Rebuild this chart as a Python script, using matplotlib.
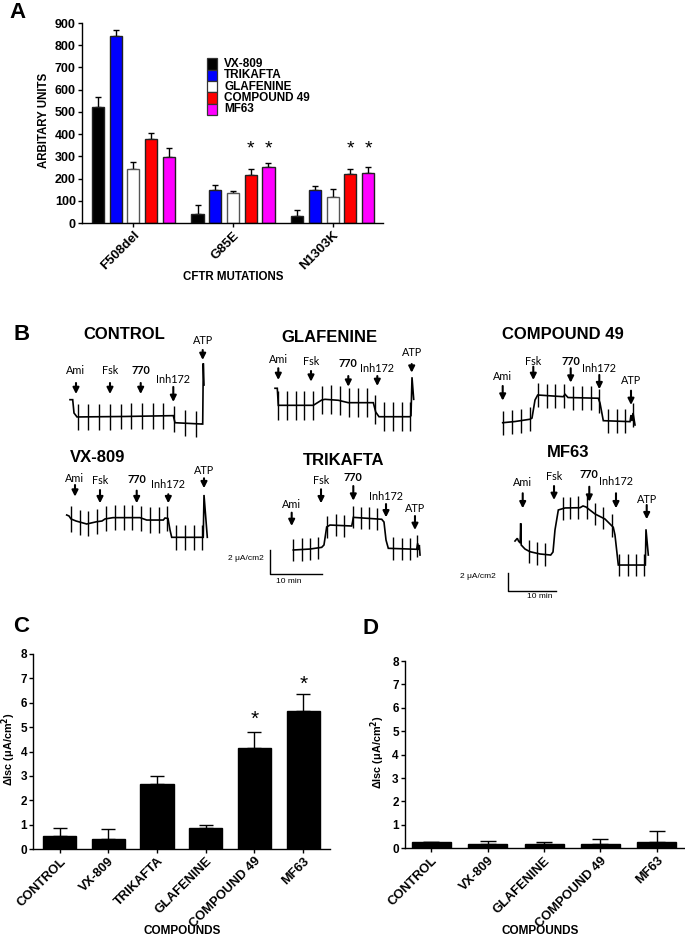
import matplotlib
matplotlib.use('Agg')
import matplotlib.pyplot as plt
import numpy as np
from matplotlib.patches import Rectangle

# ---------------- DATA ----------------
# Panel A
mutations = ['F508del', 'G85E', 'N1303K']
a_series = ['VX-809', 'TRIKAFTA', 'GLAFENINE', 'COMPOUND 49', 'MF63']
a_colors = ['#000000', '#0000FF', '#FFFFFF', '#FF0000', '#FF00FF']
a_vx809 = [520, 39, 30]
a_vx809_err = [46, 42, 27]
a_trikafta = [840, 150, 150]
a_trikafta_err = [27, 23, 16]
a_glafenine = [241, 135, 116]
a_glafenine_err = [34, 11, 36]
a_comp49 = [378, 218, 221]
a_comp49_err = [28, 23, 20]
a_mf63 = [295, 251, 224]
a_mf63_err = [43, 18, 26]
a_star_group = [1, 1, 2, 2]
a_star_series = [3, 4, 3, 4]
a_star_y = [335, 335, 335, 335]

# Panel C
c_labels = ['CONTROL', 'VX-809', 'TRIKAFTA', 'GLAFENINE', 'COMPOUND 49', 'MF63']
c_vals = [0.52, 0.40, 2.66, 0.86, 4.15, 5.65]
c_err = [0.33, 0.41, 0.33, 0.11, 0.63, 0.71]
c_star_idx = [4, 5]
c_star_y = [5.32, 6.76]

# Panel D
d_labels = ['CONTROL', 'VX-809', 'GLAFENINE', 'COMPOUND 49', 'MF63']
d_vals = [0.25, 0.20, 0.20, 0.20, 0.29]
d_err = [0.03, 0.13, 0.06, 0.19, 0.47]

# Panel B traces (time in min, current in uA/cm2, relative)
arrow_labels = ['Ami', 'Fsk', '770', 'Inh172', 'ATP']

ctrl_t = [1.0, 1.54, 1.8, 2.4, 12.0, 21.66, 22.0, 27.34, 27.54, 27.66, 27.8]
ctrl_i = [3.36, 3.36, 2.25, 1.92, 1.96, 2.03, 1.44, 1.33, 1.33, 6.39, 4.58]
ctrl_pulse_t = [2.54, 4.66, 6.86, 9.0, 11.14, 13.26, 15.4, 17.54, 19.66, 21.8, 24.0, 26.14]
ctrl_pulse_h = 1.08
ctrl_arrow_t = [2.2, 9.0, 15.14, 21.66, 27.54]
ctrl_arrow_top = [4.75, 4.75, 4.75, 4.42, 7.5]
ctrl_arrow_bot = [3.83, 3.83, 3.83, 3.17, 6.67]
ctrl_label_i = [5.75, 5.75, 5.75, 5.08, 8.25]

glaf_t = [1.0, 1.46, 1.66, 8.66, 10.34, 11.0, 13.66, 15.66, 20.66, 21.14, 21.8, 28.0, 28.2, 28.4, 28.74]
glaf_i = [4.31, 4.31, 2.89, 2.89, 3.33, 3.39, 3.31, 3.11, 3.11, 2.33, 1.94, 1.94, 2.03, 5.23, 3.39]
glaf_pulse_t = [1.66, 3.34, 5.14, 6.86, 8.66, 10.46, 12.2, 14.0, 15.8, 17.54, 19.34, 21.0, 22.86, 24.6, 26.34, 28.0]
glaf_pulse_h = 1.2
glaf_arrow_t = [1.66, 8.2, 15.66, 21.46, 28.34]
glaf_arrow_top = [5.98, 5.75, 5.33, 5.33, 6.33]
glaf_arrow_bot = [5.0, 4.86, 4.44, 4.5, 5.61]
glaf_label_i = [6.73, 6.58, 6.39, 5.98, 7.28]

c49_t = [1.54, 4.0, 7.0, 7.4, 8.0, 8.54, 13.66, 14.0, 14.6, 20.66, 21.0, 21.66, 27.0, 27.2, 27.4, 27.6, 28.0]
c49_i = [1.44, 1.54, 1.73, 1.83, 3.33, 3.75, 3.61, 3.81, 3.54, 3.48, 3.08, 1.61, 1.53, 2.08, 1.58, 2.25, 1.25]
c49_pulse_t = [1.54, 3.4, 5.2, 7.0, 8.54, 10.34, 12.06, 13.8, 15.54, 17.34, 19.14, 20.86, 22.66, 24.34, 26.0, 27.66]
c49_pulse_h = 1.0
c49_arrow_t = [1.54, 7.66, 15.14, 20.86, 27.2]
c49_arrow_top = [4.5, 6.11, 5.98, 5.42, 4.11]
c49_arrow_bot = [3.28, 5.0, 4.78, 4.23, 2.92]
c49_label_i = [5.33, 6.58, 6.53, 5.98, 4.92]

vx_t = [0.34, 0.8, 1.2, 2.2, 4.34, 6.34, 7.4, 8.0, 9.6, 15.0, 16.34, 19.66, 20.0, 20.6, 21.0, 21.34, 27.34, 27.65, 27.8, 28.46]
vx_i = [3.75, 3.67, 3.42, 3.25, 3.0, 3.19, 3.25, 3.42, 3.53, 3.53, 3.33, 3.33, 3.5, 3.46, 2.5, 1.89, 1.89, 1.89, 5.42, 1.89]
vx_pulse_t = [1.2, 3.0, 4.66, 6.46, 8.2, 9.94, 11.74, 13.46, 15.26, 17.0, 18.8, 20.46, 22.26, 24.0, 25.74, 27.46]
vx_pulse_h = 1.05
vx_arrow_t = [2.0, 7.0, 14.34, 20.66, 27.8]
vx_arrow_top = [6.25, 5.83, 5.78, 5.48, 6.81]
vx_arrow_bot = [5.28, 4.73, 4.73, 4.73, 5.98]
vx_label_i = [6.81, 6.61, 6.67, 6.31, 7.44]

tri_t = [4.48, 7.69, 9.94, 10.38, 10.9, 11.54, 15.71, 15.87, 16.02, 21.48, 21.92, 22.31, 22.75, 28.21, 28.4, 28.56, 28.71, 28.85]
tri_i = [2.0, 2.08, 2.22, 2.42, 3.92, 4.08, 4.0, 4.33, 4.72, 4.56, 4.33, 2.83, 2.14, 2.06, 2.56, 2.0, 2.42, 1.58]
tri_pulse_t = [4.48, 6.1, 7.69, 9.29, 10.9, 12.69, 14.29, 16.02, 17.5, 19.04, 20.52, 23.71, 25.33, 26.92, 28.3]
tri_pulse_h = 0.92
tri_arrow_t = [4.17, 9.81, 16.02, 22.31, 27.88]
tri_arrow_top = [5.11, 7.06, 7.33, 5.83, 4.83]
tri_arrow_bot = [4.0, 5.89, 6.11, 4.72, 3.67]
tri_label_i = [5.75, 7.78, 8.03, 6.44, 5.47]

mf_t = [1.51, 1.99, 2.24, 2.58, 2.69, 2.8, 3.58, 4.62, 6.69, 8.9, 9.38, 9.79, 10.48, 11.86, 14.97,
        15.59, 16.21, 18.07, 20.14, 21.86, 22.21, 22.9, 28.07, 28.5, 28.63, 29.11]
mf_i = [5.71, 6.02, 5.71, 5.48, 7.75, 5.25, 4.79, 4.48, 4.22, 4.1, 4.45, 6.98, 9.28, 9.51, 9.54,
        9.74, 9.62, 8.82, 8.24, 7.29, 6.4, 2.95, 2.95, 2.95, 7.06, 4.1]
mf_pulse_t = [4.47, 6.13, 7.78, 11.39, 12.9, 14.62, 16.36, 18.07, 19.79, 21.53, 23.04, 24.84, 26.56, 28.28]
mf_pulse_h = 1.3
mf_arrow_t = [3.11, 9.59, 16.89, 22.42, 28.78]
mf_arrow_top = [11.2, 12.03, 11.95, 11.2, 9.85]
mf_arrow_bot = [9.47, 10.43, 10.23, 9.47, 8.21]
mf_label_i = [12.41, 13.18, 13.38, 12.53, 10.51]

scale_min = 10
scale_ua = 2

# ---------------- FIGURE ----------------
W_PX, H_PX = 685, 939
plt.rcParams['font.family'] = ['Liberation Sans', 'DejaVu Sans']
plt.rcParams['font.weight'] = 'bold'
plt.rcParams['axes.linewidth'] = 1.0
fig = plt.figure(figsize=(6.85, 9.39), dpi=100)


def box(l, t, r, b):
    return [l / W_PX, 1 - b / H_PX, (r - l) / W_PX, (b - t) / H_PX]


def fx(x):
    return x / W_PX


def fy(y):
    return 1 - y / H_PX


def style_bar_axes(ax):
    ax.spines['top'].set_visible(False)
    ax.spines['right'].set_visible(False)
    ax.tick_params(axis='both', direction='out', length=3, width=1, pad=1.5)
    for lab in ax.get_yticklabels():
        lab.set_fontweight('bold')


# ---------- Panel A ----------
axA = fig.add_axes(box(82, 23, 383, 223))
a_vals = [a_vx809, a_trikafta, a_glafenine, a_comp49, a_mf63]
a_errs = [a_vx809_err, a_trikafta_err, a_glafenine_err, a_comp49_err, a_mf63_err]
xg = np.arange(len(mutations))
step = 0.178
bw = 0.122
for k in range(len(a_series)):
    xs = xg + (k - 2) * step
    axA.errorbar(xs, a_vals[k], yerr=[np.zeros(3), a_errs[k]], fmt='none', ecolor='black',
                 elinewidth=1.0, capsize=2.5, capthick=1.0, zorder=1)
    axA.bar(xs, a_vals[k], width=bw, color=a_colors[k],
            edgecolor='#222222' if k != 2 else '#555555', linewidth=1.0, zorder=2)
for g, s, y in zip(a_star_group, a_star_series, a_star_y):
    axA.text(xg[g] + (s - 2) * step, y, '*', ha='center', va='center', fontsize=14, fontweight='normal')
axA.set_xlim(-0.515, 2.505)
axA.set_ylim(0, 900)
axA.set_yticks(np.arange(0, 901, 100))
axA.set_xticks(xg)
axA.set_xticklabels(mutations, rotation=45, ha='right', va='top', rotation_mode='anchor',
                    fontsize=9.5, fontweight='bold')
axA.tick_params(axis='y', labelsize=9)
style_bar_axes(axA)
axA.set_ylabel('ARBITARY UNITS', fontsize=8.3, fontweight='bold')
axA.yaxis.label.set_va('center')
axA.yaxis.set_label_coords(fx(44), fy(120), transform=fig.transFigure)
axA.set_xlabel('CFTR MUTATIONS', fontsize=8.3, fontweight='bold')
axA.xaxis.set_label_coords(fx(233), fy(277), transform=fig.transFigure)
axA.xaxis.label.set_va('center')

# legend (manual)
for k, (name, col) in enumerate(zip(a_series, a_colors)):
    top = 58.3 + k * 11.3
    r = Rectangle((fx(207.3), fy(top + 11.3)), fx(9.3), 11.3 / H_PX, transform=fig.transFigure,
                  facecolor=col, edgecolor='#333333', linewidth=0.9)
    fig.add_artist(r)
    fig.text(fx(224.3), fy(top + 5.9), name, fontsize=8.5, fontweight='bold', va='center', ha='left')

# ---------- Panel B ----------
def draw_trace(x0, yb, ppm, ppu, t, i, pt, ph, at, atop, abot, aly):
    w, h = 175, 160
    ax = fig.add_axes(box(x0, yb - h, x0 + w, yb))
    ax.set_xlim(0, w / ppm)
    ax.set_ylim(0, h / ppu)
    ax.axis('off')
    ax.plot(t, i, color='black', lw=1.2, clip_on=False, solid_joinstyle='miter')
    base = np.interp(pt, t, i)
    ax.vlines(pt, base - ph, base + ph, color='black', lw=1.0, clip_on=False)
    for x, top, bot, ly, lab in zip(at, atop, abot, aly, arrow_labels):
        ax.annotate('', xy=(x, bot), xytext=(x, top),
                    arrowprops=dict(arrowstyle='-|>', color='black', lw=1.5, mutation_scale=9,
                                    shrinkA=0, shrinkB=0), annotation_clip=False)
        ax.text(x, ly, lab, ha='center', va='center', fontsize=7.8,
                family=['Lato', 'DejaVu Sans'], fontweight='bold' if lab == '770' else 'normal')
    return ax


draw_trace(65, 440, 5, 12, ctrl_t, ctrl_i, ctrl_pulse_t, ctrl_pulse_h,
           ctrl_arrow_t, ctrl_arrow_top, ctrl_arrow_bot, ctrl_label_i)
draw_trace(270, 440, 5, 12, glaf_t, glaf_i, glaf_pulse_t, glaf_pulse_h,
           glaf_arrow_t, glaf_arrow_top, glaf_arrow_bot, glaf_label_i)
draw_trace(495, 440, 5, 12, c49_t, c49_i, c49_pulse_t, c49_pulse_h,
           c49_arrow_t, c49_arrow_top, c49_arrow_bot, c49_label_i)
draw_trace(65, 560, 5, 12, vx_t, vx_i, vx_pulse_t, vx_pulse_h,
           vx_arrow_t, vx_arrow_top, vx_arrow_bot, vx_label_i)
axT = draw_trace(270, 574, 5.2, 12, tri_t, tri_i, tri_pulse_t, tri_pulse_h,
                 tri_arrow_t, tri_arrow_top, tri_arrow_bot, tri_label_i)
axM = draw_trace(507.7, 590.7, 4.83, 8.7, mf_t, mf_i, mf_pulse_t, mf_pulse_h,
                 mf_arrow_t, mf_arrow_top, mf_arrow_bot, mf_label_i)

# scale bars
for ax, lx, ly, tx, ty in [(axT, -1.15, 1.33, 3.65, -0.64), (axM, -2.48, 1.61, 6.69, -0.69)]:
    ax.plot([0, 0, scale_min], [scale_ua, 0, 0], color='black', lw=1.0, clip_on=False)
    ax.text(lx, ly, '2 \u03bcA/cm2', ha='right', va='center', fontsize=6, fontweight='normal')
    ax.text(tx, ty, '10 min', ha='center', va='center', fontsize=6, fontweight='normal')

for txt, x, y in [('CONTROL', 124, 335), ('GLAFENINE', 329, 338), ('COMPOUND 49', 563, 335),
                  ('VX-809', 98, 458), ('TRIKAFTA', 344, 460), ('MF63', 568, 453)]:
    fig.text(fx(x), fy(y), txt, fontsize=12, fontweight='bold', ha='center', va='center')

# ---------- Panel C ----------
axC = fig.add_axes(box(33.3, 654, 330, 849))
xc = np.arange(len(c_labels))
axC.errorbar(xc, c_vals, yerr=[np.zeros(len(c_vals)), c_err], fmt='none', ecolor='black',
             elinewidth=1.0, capsize=5, capthick=1.0, zorder=1)
axC.bar(xc, c_vals, width=0.683, color='black', edgecolor='black', zorder=2)
for idx, y in zip(c_star_idx, c_star_y):
    axC.text(xc[idx], y, '*', ha='center', va='center', fontsize=15, fontweight='normal')
axC.set_xlim(-0.54, 5.55)
axC.set_ylim(0, 8)
axC.set_yticks(range(0, 9))
axC.set_xticks(xc)
axC.set_xticklabels(c_labels, rotation=45, ha='right', va='top', rotation_mode='anchor',
                    fontsize=9.3, fontweight='bold')
axC.tick_params(axis='y', labelsize=8.5)
style_bar_axes(axC)
axC.set_ylabel('\u0394Isc (\u03bcA/cm$^\\mathbf{2}$)', fontsize=7.8, fontweight='bold')
axC.yaxis.label.set_va('center')
axC.yaxis.set_label_coords(fx(9), fy(749), transform=fig.transFigure)
axC.set_xlabel('COMPOUNDS', fontsize=8.5, fontweight='bold')
axC.xaxis.set_label_coords(fx(182), fy(931), transform=fig.transFigure)
axC.xaxis.label.set_va('center')

# ---------- Panel D ----------
axD = fig.add_axes(box(405, 661, 685, 848.3))
xd = np.arange(len(d_labels))
axD.errorbar(xd, d_vals, yerr=[np.zeros(len(d_vals)), d_err], fmt='none', ecolor='black',
             elinewidth=1.0, capsize=6, capthick=1.0, zorder=1)
axD.bar(xd, d_vals, width=0.69, color='black', edgecolor='black', zorder=2)
axD.set_xlim(-0.467, 4.5)
axD.set_ylim(0, 8)
axD.set_yticks(range(0, 9))
axD.set_xticks(xd)
axD.set_xticklabels(d_labels, rotation=45, ha='right', va='top', rotation_mode='anchor',
                    fontsize=9.3, fontweight='bold')
axD.tick_params(axis='y', labelsize=8.5)
style_bar_axes(axD)
axD.set_ylabel('\u0394Isc (\u03bcA/cm$^\\mathbf{2}$)', fontsize=7.8, fontweight='bold')
axD.yaxis.label.set_va('center')
axD.yaxis.set_label_coords(fx(377.5), fy(752), transform=fig.transFigure)
axD.set_xlabel('COMPOUNDS', fontsize=8.5, fontweight='bold')
axD.xaxis.set_label_coords(fx(540), fy(931), transform=fig.transFigure)
axD.xaxis.label.set_va('center')

# panel letters
for txt, x, y in [('A', 17.5, 12.5), ('B', 21.3, 334.7), ('C', 21, 627), ('D', 370.5, 628)]:
    fig.text(fx(x), fy(y), txt, fontsize=16, fontweight='bold', ha='center', va='center')

fig.savefig('out.png', dpi=100)
